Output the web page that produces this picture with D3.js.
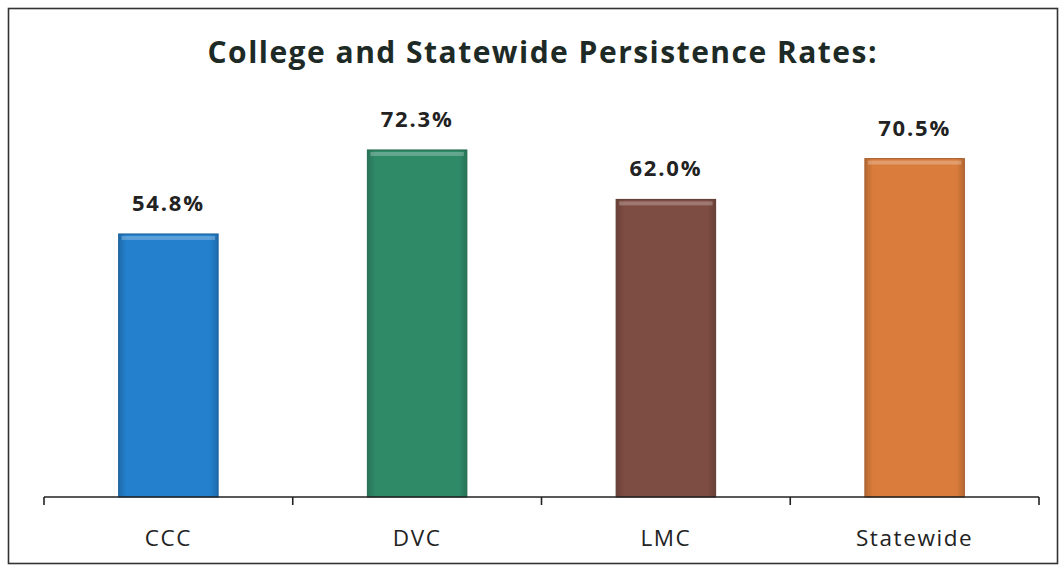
<!DOCTYPE html>
<html><head><meta charset="utf-8">
<script src="https://cdn.jsdelivr.net/npm/d3@7"></script>
<style>body{margin:0;background:#fff}svg{display:block}</style>
</head><body>
<svg id="c" width="1062" height="566"></svg>
<script>
const categories = ["CCC", "DVC", "LMC", "Statewide"];
const values = [54.8, 72.3, 62.0, 70.5];
const barColors = ["#2480cc", "#2f8a68", "#7d4c42", "#d97c3c"];
const title = "College and Statewide Persistence Rates:";

const svg = d3.select("#c");

svg.append("rect").attr("x", 8.5).attr("y", 8.5).attr("width", 1049).attr("height", 555)
  .attr("fill", "#fff").attr("stroke", "#333").attr("stroke-width", 1.6);

const x = d3.scaleBand().domain(categories).range([44, 1039]).paddingInner(0.6).paddingOuter(0.3);
const y = d3.scaleLinear().domain([0, 100]).range([497, 17]);

const defs = svg.append("defs");
barColors.forEach((c, i) => {
  const g = defs.append("linearGradient").attr("id", "g" + i).attr("x1", 0).attr("x2", 1).attr("y1", 0).attr("y2", 0);
  const base = d3.color(c);
  g.append("stop").attr("offset", "0%").attr("stop-color", base.darker(0.5));
  g.append("stop").attr("offset", "8%").attr("stop-color", base);
  g.append("stop").attr("offset", "92%").attr("stop-color", base);
  g.append("stop").attr("offset", "100%").attr("stop-color", base.darker(0.5));
});

const bars = svg.append("g").selectAll("g").data(categories).join("g");
bars.append("rect")
  .attr("x", d => x(d)).attr("width", x.bandwidth())
  .attr("y", (d, i) => y(values[i])).attr("height", (d, i) => y(0) - y(values[i]))
  .attr("fill", (d, i) => `url(#g${i})`)
  .attr("stroke", (d, i) => d3.color(barColors[i]).darker(0.8)).attr("stroke-width", 1);
bars.append("rect")
  .attr("x", d => x(d) + 3).attr("width", x.bandwidth() - 6)
  .attr("y", (d, i) => y(values[i]) + 2).attr("height", 4)
  .attr("fill", "#fff").attr("opacity", 0.25);

bars.append("text")
  .attr("x", d => x(d) + x.bandwidth() / 2)
  .attr("y", (d, i) => y(values[i]) - 23)
  .attr("text-anchor", "middle")
  .attr("font-family", "'Open Sans', sans-serif").attr("font-weight", 700)
  .attr("font-size", 22).attr("letter-spacing", 1.8).attr("fill", "#222")
  .text((d, i) => values[i].toFixed(1) + "%");

const axis = svg.append("g").attr("transform", `translate(0,${y(0)})`);
axis.append("line").attr("x1", 44).attr("x2", 1039).attr("stroke", "#222").attr("stroke-width", 1.6);
const edges = d3.range(categories.length + 1).map(i => 44 + i * (1039 - 44) / categories.length);
axis.selectAll(".tk").data(edges).join("line").attr("class", "tk")
  .attr("x1", d => d).attr("x2", d => d).attr("y1", 0).attr("y2", 8)
  .attr("stroke", "#222").attr("stroke-width", 1.6);
axis.selectAll(".lb").data(categories).join("text").attr("class", "lb")
  .attr("x", d => x(d) + x.bandwidth() / 2).attr("y", 49)
  .attr("text-anchor", "middle")
  .attr("font-family", "'Open Sans', sans-serif").attr("font-size", 22.5)
  .attr("letter-spacing", 1.6).attr("fill", "#222")
  .text(d => d);

svg.append("text").attr("x", 542).attr("y", 63).attr("text-anchor", "middle")
  .attr("font-family", "'Open Sans', sans-serif").attr("font-weight", 700)
  .attr("font-size", 30).attr("fill", "#1e2a25")
  .attr("textLength", 669).attr("lengthAdjust", "spacing")
  .text(title);
</script>
</body></html>
